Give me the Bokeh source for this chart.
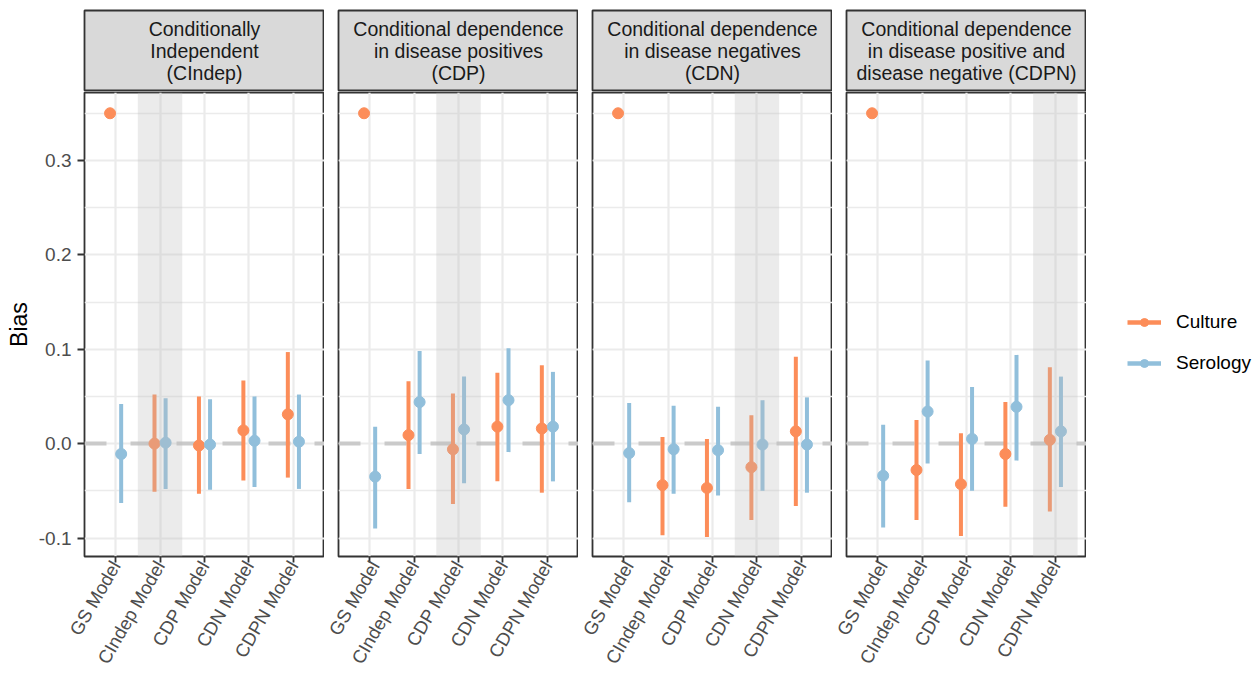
import numpy as np
from math import pi
from bokeh.plotting import figure
from bokeh.models import (FactorRange, Range1d, FixedTicker, NumeralTickFormatter,
                          Span, ColumnDataSource, Legend, LegendItem, Grid)
from bokeh.layouts import row, column
from bokeh.transform import dodge
from bokeh.embed import file_html
from bokeh.resources import INLINE
from bokeh.core.properties import value

# ---------------- data ----------------
models = ["GS Model", "CIndep Model", "CDP Model", "CDN Model", "CDPN Model"]
scenarios = ["Conditionally\nIndependent\n(CIndep)",
             "Conditional dependence\nin disease positives\n(CDP)",
             "Conditional dependence\nin disease negatives\n(CDN)",
             "Conditional dependence\nin disease positive and\ndisease negative (CDPN)"]
highlight = ["CIndep Model", "CDP Model", "CDN Model", "CDPN Model"]
series_names = ["Culture", "Serology"]
series_colors = ["#FC8D59", "#91BFDB"]

nan = float("nan")
culture_est = [[0.35, 0.000, -0.002, 0.014, 0.031],
               [0.35, 0.009, -0.006, 0.018, 0.016],
               [0.35, -0.044, -0.047, -0.025, 0.013],
               [0.35, -0.028, -0.043, -0.011, 0.004]]
culture_lo = [[nan, -0.051, -0.053, -0.039, -0.036],
              [nan, -0.048, -0.064, -0.040, -0.052],
              [nan, -0.097, -0.099, -0.081, -0.066],
              [nan, -0.081, -0.098, -0.067, -0.072]]
culture_hi = [[nan, 0.052, 0.050, 0.067, 0.097],
              [nan, 0.066, 0.053, 0.075, 0.083],
              [nan, 0.007, 0.005, 0.030, 0.092],
              [nan, 0.025, 0.011, 0.044, 0.081]]
serology_est = [[-0.011, 0.001, -0.001, 0.003, 0.002],
                [-0.035, 0.044, 0.015, 0.046, 0.018],
                [-0.010, -0.006, -0.007, -0.001, -0.001],
                [-0.034, 0.034, 0.005, 0.039, 0.013]]
serology_lo = [[-0.063, -0.048, -0.049, -0.046, -0.048],
               [-0.090, -0.011, -0.042, -0.009, -0.040],
               [-0.062, -0.053, -0.055, -0.050, -0.052],
               [-0.089, -0.021, -0.050, -0.018, -0.046]]
serology_hi = [[0.042, 0.048, 0.047, 0.050, 0.052],
               [0.018, 0.098, 0.071, 0.101, 0.076],
               [0.043, 0.040, 0.039, 0.046, 0.049],
               [0.020, 0.088, 0.060, 0.094, 0.071]]
y_ticks = [-0.1, 0.0, 0.1, 0.2, 0.3]
y_minor = [-0.05, 0.05, 0.15, 0.25, 0.35]
y_lims = (-0.1196, 0.372)

# ---------------- style ----------------
FONT = "Liberation Sans"
GRID = "#EBEBEB"
DARK = "#333333"
FRAME_W = 240
FRAME_H = 464
LEFT1 = 84
GAP = 14
LEGEND_W = 168
STRIP_TOP = 10
STRIP_H = STRIP_TOP + 81
PANEL_H = 586
PANEL_TOP = 1
SHIFT = 0.125

strips = []
panels = []
for i in range(4):
    first = (i == 0)
    lb = LEFT1 if first else GAP
    w = lb + FRAME_W

    # strip
    s = figure(width=w, height=STRIP_H, x_range=Range1d(0, 1), y_range=Range1d(0, 1),
               output_backend="svg", toolbar_location=None,
               x_axis_location=None, y_axis_location=None,
               min_border_left=lb, min_border_right=0, min_border_top=STRIP_TOP,
               min_border_bottom=0)
    s.grid.visible = False
    s.background_fill_color = "#D9D9D9"
    s.border_fill_color = "white"
    s.outline_line_color = DARK
    s.outline_line_width = 1.8
    s.text(x=[0.5], y=[0.5], text=[scenarios[i]], text_align="center", text_baseline="middle",
           text_font=value(FONT), text_font_size="19.5px", text_color="#1A1A1A",
           text_line_height=1.0)
    strips.append(s)

    # panel
    p = figure(width=w, height=PANEL_H,
               x_range=FactorRange(factors=models, range_padding=0.2,
                                   range_padding_units="absolute"),
               y_range=Range1d(*y_lims),
               output_backend="svg", toolbar_location=None,
               y_axis_location="left" if first else None,
               min_border_left=lb, min_border_right=0, min_border_top=PANEL_TOP,
               min_border_bottom=PANEL_H - PANEL_TOP - FRAME_H)
    p.background_fill_color = "white"
    p.border_fill_color = "white"
    p.outline_line_color = DARK
    p.outline_line_width = 1.8

    p.xgrid.grid_line_color = GRID
    p.xgrid.grid_line_width = 2.2
    if first:
        yg = p.ygrid[0]
        p.yaxis.ticker = FixedTicker(ticks=y_ticks, minor_ticks=y_minor)
        p.yaxis.formatter = NumeralTickFormatter(format="0.0")
        p.yaxis.axis_label = "Bias"
        p.yaxis.axis_label_text_font = FONT
        p.yaxis.axis_label_text_font_size = "23px"
        p.yaxis.axis_label_text_font_style = "normal"
        p.yaxis.axis_label_text_color = "black"
        p.yaxis.axis_label_standoff = 4
        p.yaxis.major_label_text_font = FONT
        p.yaxis.major_label_text_font_size = "19px"
        p.yaxis.major_label_text_color = "#4D4D4D"
        p.yaxis.major_label_standoff = 6
        p.yaxis.axis_line_color = None
        p.yaxis.major_tick_line_color = DARK
        p.yaxis.major_tick_line_width = 1.8
        p.yaxis.major_tick_out = 7
        p.yaxis.major_tick_in = 0
        p.yaxis.minor_tick_line_color = None
        yg.ticker = p.yaxis[0].ticker
    else:
        yg = Grid(dimension=1, ticker=FixedTicker(ticks=y_ticks, minor_ticks=y_minor))
        p.add_layout(yg)
    yg.grid_line_color = GRID
    yg.grid_line_width = 2.2
    yg.minor_grid_line_color = GRID
    yg.minor_grid_line_width = 1.3

    p.xaxis.axis_line_color = None
    p.xaxis.major_tick_line_color = DARK
    p.xaxis.major_tick_line_width = 1.8
    p.xaxis.major_tick_out = 6
    p.xaxis.major_tick_in = 0
    p.xaxis.major_label_orientation = pi / 3
    p.xaxis.major_label_text_font = FONT
    p.xaxis.major_label_text_font_size = "18.5px"
    p.xaxis.major_label_text_color = "#4D4D4D"
    p.xaxis.major_label_standoff = 0

    zero = Span(location=0, dimension="width", line_color="#CACACA", line_width=4,
                line_dash="22 24", level="underlay")
    p.add_layout(zero)

    series = [(culture_est[i], culture_lo[i], culture_hi[i], -SHIFT, series_colors[0]),
              (serology_est[i], serology_lo[i], serology_hi[i], SHIFT, series_colors[1])]
    for est, lo, hi, off, col in series:
        src = ColumnDataSource(dict(model=models, est=est, lo=lo, hi=hi))
        xs = dodge("model", off, range=p.x_range)
        p.segment(x0=xs, y0="lo", x1=xs, y1="hi", source=src, line_color=col, line_width=4)
        p.scatter(x=xs, y="est", source=src, size=11, fill_color=col, line_color=col)

    hsrc = ColumnDataSource(dict(model=[highlight[i]]))
    p.vbar(x="model", width=1.0, top=y_lims[1], bottom=y_lims[0], source=hsrc,
           fill_color="#BEBEBE", fill_alpha=0.3, line_color=None)
    panels.append(p)

# ---------------- legend (own figure) ----------------
TOTAL_H = STRIP_H + PANEL_H
lf = figure(width=LEGEND_W, height=TOTAL_H, x_range=Range1d(0, 1), y_range=Range1d(0, 1),
            output_backend="svg", toolbar_location=None,
            x_axis_location=None, y_axis_location=None, min_border=0)
lf.grid.visible = False
lf.outline_line_color = None
items = []
for name, col in zip(series_names, series_colors):
    src = ColumnDataSource(dict(x=[nan], y=[nan]))
    r1 = lf.segment(x0="x", y0="y", x1="x", y1="y", source=src, line_color=col, line_width=4.5)
    r2 = lf.scatter(x="x", y="y", source=src, size=12, fill_color=col, line_color=col)
    items.append(LegendItem(label=name, renderers=[r1, r2]))
leg = Legend(items=items, location=(41, TOTAL_H - 374), padding=0, margin=0,
             border_line_color=None, background_fill_alpha=0,
             glyph_width=34, glyph_height=20, spacing=19, label_standoff=15,
             label_text_font=FONT, label_text_font_size="19px",
             label_text_color="black", label_height=20)
lf.add_layout(leg)

layout = row(column(row(*strips), row(*panels)), lf)
open("out.html", "w").write(file_html(layout, INLINE))
